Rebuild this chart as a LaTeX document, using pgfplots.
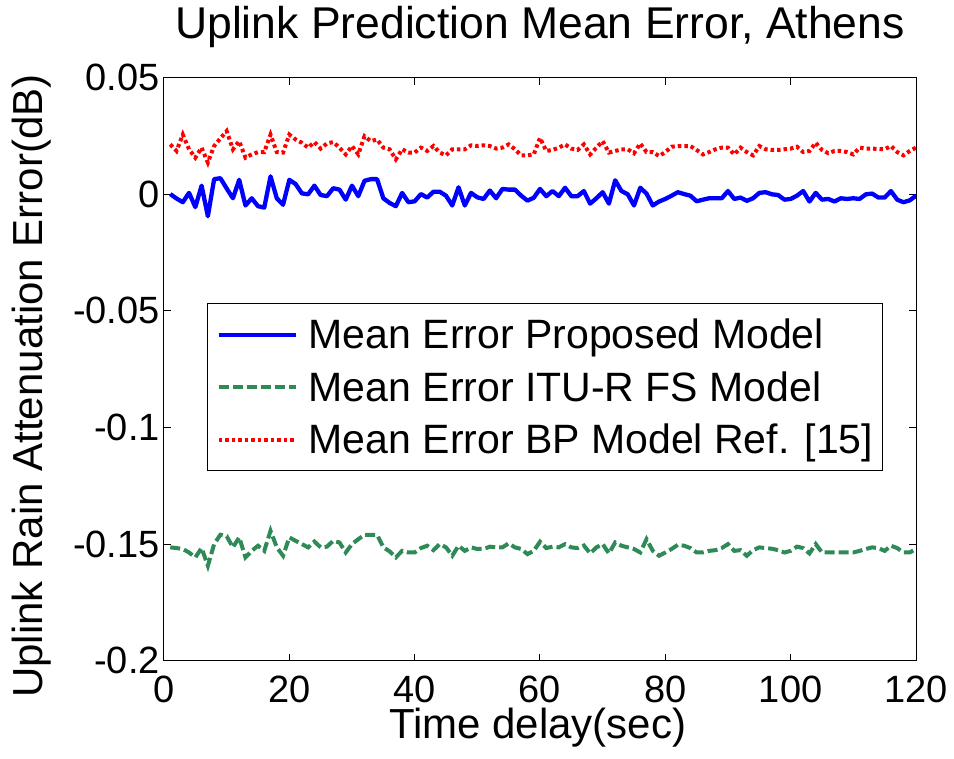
\documentclass[border=0pt]{standalone}
\usepackage{fontspec}
\setmainfont{Liberation Sans}
\usepackage{pgfplots}
\pgfplotsset{compat=1.18}
\definecolor{mblue}{RGB}{0,0,255}
\definecolor{mgreen}{RGB}{46,139,87}
\definecolor{mred}{RGB}{255,0,0}
\begin{document}
\begin{tikzpicture}
\begin{axis}[
 scale only axis, width=752pt, height=583pt,
 xmin=0, xmax=120, ymin=-0.2, ymax=0.05,
 xtick={0,20,40,60,80,100,120}, xticklabels={0,20,40,60,80,100,120},
 ytick={-0.2,-0.15,-0.1,-0.05,0,0.05}, yticklabels={-0.2,-0.15,-0.1,-0.05,0,0.05},
 scaled y ticks=false,
 tick align=inside, xtick pos=both, ytick pos=both,
 xticklabel pos=left, yticklabel pos=left,
 major tick length=7pt,
 every tick/.style={black, line width=1pt},
 axis line style={line width=1pt},
 ticklabel style={font=\fontsize{38}{44}\selectfont, inner sep=0pt},
 xticklabel style={anchor=base, yshift=-41.5pt},
 yticklabel style={anchor=east, xshift=-4pt},
 title={Uplink Prediction Mean Error, Athens},
 title style={at={(axis description cs:0.5,1.0561)}, anchor=base, font=\fontsize{44.5}{52}\selectfont, inner sep=0pt},
 xlabel={Time delay(sec)},
 xlabel style={at={(axis description cs:0.497,-0.1330)}, anchor=base, font=\fontsize{42}{50}\selectfont, inner sep=0pt},
 ylabel={Uplink Rain Attenuation Error(dB)},
 ylabel style={at={(axis description cs:-0.1622,0.471)}, anchor=base, font=\fontsize{42}{50}\selectfont, inner sep=0pt},
 legend style={at={(axis description cs:0.0572,0.613)}, anchor=north west, draw=black, line width=1pt,
   inner xsep=9pt, inner ysep=5pt, row sep=0.5pt,
   nodes={inner sep=0pt, text height=40pt, text depth=12pt},
   font=\fontsize{41}{50}\selectfont,
   /tikz/every odd column/.append style={column sep=11pt}},
 legend cell align=left,
 legend image code/.code={\draw[#1] (0pt,0pt) -- (77pt,0pt);},
]
\addplot[mblue, line width=4.3pt, line join=round] table {
1 0.0001
2 -0.0018
3 -0.0034
4 0.0006
5 -0.0055
6 0.0037
7 -0.0094
8 0.0065
9 0.0069
10 0.0025
11 -0.0017
12 0.0062
13 -0.0048
14 -0.0017
15 -0.0051
16 -0.0057
17 0.0077
18 -0.0017
19 -0.0045
20 0.0062
21 0.0044
22 0.0004
23 0.0000
24 0.0037
25 -0.0003
26 -0.0008
27 0.0026
28 0.0020
29 -0.0023
30 0.0037
31 -0.0008
32 0.0058
33 0.0065
34 0.0065
35 -0.0017
36 -0.0037
37 -0.0051
38 0.0006
39 -0.0034
40 -0.0030
41 0.0001
42 -0.0014
43 0.0011
44 0.0011
45 -0.0006
46 -0.0048
47 0.0030
48 -0.0048
49 0.0006
50 -0.0013
51 -0.0020
52 0.0016
53 -0.0017
54 0.0023
55 0.0020
56 0.0020
57 -0.0006
58 -0.0027
59 -0.0015
60 0.0023
61 -0.0008
62 0.0014
63 -0.0008
64 0.0028
65 -0.0008
66 -0.0008
67 0.0014
68 -0.0040
69 -0.0017
70 0.0009
71 -0.0040
72 0.0060
73 0.0014
74 0.0000
75 -0.0048
76 0.0028
77 0.0003
78 -0.0048
79 -0.0031
80 -0.0020
81 -0.0006
82 0.0009
83 0.0001
84 -0.0006
85 -0.0030
86 -0.0023
87 -0.0017
88 -0.0017
89 -0.0017
90 0.0014
91 -0.0020
92 -0.0014
93 -0.0028
94 -0.0017
95 0.0006
96 0.0009
97 0.0000
98 -0.0003
99 -0.0023
100 -0.0020
101 -0.0006
102 0.0014
103 -0.0031
104 0.0006
105 -0.0023
106 -0.0020
107 -0.0031
108 -0.0017
109 -0.0020
110 -0.0017
111 -0.0020
112 0.0000
113 0.0003
114 -0.0014
115 -0.0014
116 0.0014
117 -0.0023
118 -0.0034
119 -0.0026
120 -0.0006
};
\addlegendentry{Mean Error Proposed Model}
\addplot[mgreen, line width=4pt, dash pattern=on 10pt off 4pt] table {
1 -0.1514
2 -0.1517
3 -0.1521
4 -0.1536
5 -0.1557
6 -0.1517
7 -0.1593
8 -0.1500
9 -0.1460
10 -0.1466
11 -0.1514
12 -0.1471
13 -0.1557
14 -0.1529
15 -0.1507
16 -0.1529
17 -0.1443
18 -0.1514
19 -0.1550
20 -0.1471
21 -0.1486
22 -0.1500
23 -0.1514
24 -0.1489
25 -0.1514
26 -0.1511
27 -0.1486
28 -0.1493
29 -0.1536
30 -0.1500
31 -0.1479
32 -0.1460
33 -0.1460
34 -0.1460
35 -0.1514
36 -0.1531
37 -0.1557
38 -0.1529
39 -0.1536
40 -0.1536
41 -0.1517
42 -0.1507
43 -0.1526
44 -0.1500
45 -0.1514
46 -0.1550
47 -0.1507
48 -0.1529
49 -0.1514
50 -0.1521
51 -0.1521
52 -0.1511
53 -0.1514
54 -0.1514
55 -0.1497
56 -0.1514
57 -0.1521
58 -0.1543
59 -0.1529
60 -0.1490
61 -0.1517
62 -0.1511
63 -0.1514
64 -0.1500
65 -0.1514
66 -0.1517
67 -0.1506
68 -0.1540
69 -0.1514
70 -0.1500
71 -0.1540
72 -0.1493
73 -0.1507
74 -0.1514
75 -0.1521
76 -0.1536
77 -0.1479
78 -0.1529
79 -0.1550
80 -0.1536
81 -0.1521
82 -0.1503
83 -0.1507
84 -0.1517
85 -0.1536
86 -0.1536
87 -0.1529
88 -0.1526
89 -0.1517
90 -0.1500
91 -0.1529
92 -0.1526
93 -0.1550
94 -0.1526
95 -0.1514
96 -0.1517
97 -0.1520
98 -0.1526
99 -0.1536
100 -0.1529
101 -0.1511
102 -0.1517
103 -0.1540
104 -0.1500
105 -0.1536
106 -0.1536
107 -0.1536
108 -0.1536
109 -0.1536
110 -0.1536
111 -0.1529
112 -0.1521
113 -0.1514
114 -0.1517
115 -0.1529
116 -0.1507
117 -0.1517
118 -0.1536
119 -0.1536
120 -0.1521
};
\addlegendentry{Mean Error ITU-R FS Model}
\addplot[mred, line width=4pt, dash pattern=on 3.5pt off 3pt] table {
1 0.0214
2 0.0186
3 0.0256
4 0.0193
5 0.0157
6 0.0200
7 0.0136
8 0.0207
9 0.0240
10 0.0271
11 0.0193
12 0.0228
13 0.0157
14 0.0171
15 0.0181
16 0.0181
17 0.0256
18 0.0181
19 0.0179
20 0.0256
21 0.0235
22 0.0221
23 0.0200
24 0.0224
25 0.0196
26 0.0218
27 0.0224
28 0.0200
29 0.0171
30 0.0207
31 0.0171
32 0.0249
33 0.0228
34 0.0235
35 0.0200
36 0.0193
37 0.0150
38 0.0193
39 0.0179
40 0.0179
41 0.0200
42 0.0186
43 0.0207
44 0.0179
45 0.0167
46 0.0193
47 0.0193
48 0.0193
49 0.0210
50 0.0207
51 0.0210
52 0.0207
53 0.0196
54 0.0200
55 0.0214
56 0.0193
57 0.0167
58 0.0167
59 0.0171
60 0.0242
61 0.0186
62 0.0190
63 0.0200
64 0.0214
65 0.0196
66 0.0190
67 0.0214
68 0.0171
69 0.0200
70 0.0228
71 0.0179
72 0.0186
73 0.0193
74 0.0193
75 0.0176
76 0.0218
77 0.0181
78 0.0181
79 0.0164
80 0.0181
81 0.0204
82 0.0207
83 0.0207
84 0.0207
85 0.0190
86 0.0171
87 0.0181
88 0.0193
89 0.0200
90 0.0200
91 0.0171
92 0.0200
93 0.0181
94 0.0167
95 0.0207
96 0.0193
97 0.0190
98 0.0190
99 0.0193
100 0.0196
101 0.0204
102 0.0181
103 0.0186
104 0.0221
105 0.0190
106 0.0176
107 0.0186
108 0.0186
109 0.0181
110 0.0171
111 0.0200
112 0.0196
113 0.0196
114 0.0194
115 0.0193
116 0.0207
117 0.0181
118 0.0167
119 0.0186
120 0.0200
};
\addlegendentry{Mean Error BP Model Ref. [15]}
\end{axis}
\pgfresetboundingbox
\path ([shift={(-164pt,-97.5pt)}]current axis.south west) rectangle ([shift={(790pt,660.7pt)}]current axis.south west);
\end{tikzpicture}
\end{document}
